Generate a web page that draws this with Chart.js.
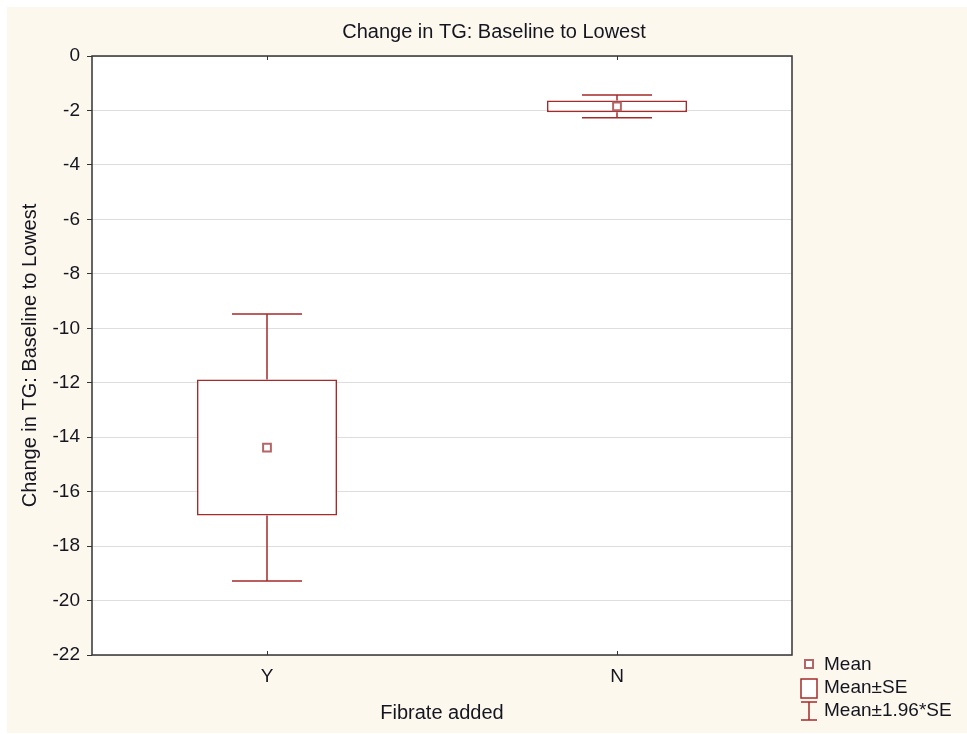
<!DOCTYPE html>
<html>
<head>
<meta charset="utf-8">
<title>Change in TG: Baseline to Lowest</title>
<script src="https://cdn.jsdelivr.net/npm/chart.js@4.4.1/dist/chart.umd.min.js"></script>
<style>
  html, body { margin: 0; padding: 0; background: #fff; }
  #wrap { width: 967px; height: 734px; }
</style>
</head>
<body>
<div id="wrap"><canvas id="boxChart" width="967" height="734"></canvas></div>
<script>
// group means and standard errors
const groups = ["Y", "N"];
const means = [-14.38, -1.85];
const stdErr = [2.5, 0.215];
const ciFactor = 1.96;

// y axis range
const yMin = -22;
const yMax = 0;
const yStep = 2;

const TITLE = "Change in TG: Baseline to Lowest";
const RED = "#a52a2a";
const MEAN_RED = "#b56565";
const FONT = "'Liberation Sans', Arial, sans-serif";
const TEXT = "#151520";

const seBoxes = means.map((m, i) => [m - stdErr[i], m + stdErr[i]]);

// cream page, white plot background, title centred on the page
const backdrop = {
  id: "backdrop",
  beforeDraw(chart) {
    const { ctx, chartArea: a } = chart;
    ctx.save();
    ctx.fillStyle = "#fdf8ee";
    ctx.fillRect(7, 7, chart.width - 7, chart.height - 8);
    ctx.fillStyle = "#fff";
    ctx.fillRect(a.left, a.top, a.right - a.left, a.bottom - a.top);
    ctx.fillStyle = TEXT;
    ctx.font = "20px " + FONT;
    ctx.textAlign = "center";
    ctx.textBaseline = "middle";
    ctx.fillText(TITLE, 494, 32);
    ctx.restore();
  }
};

// plot frame with small category ticks
const frame = {
  id: "frame",
  beforeDatasetsDraw(chart) {
    const { ctx, chartArea: a, scales } = chart;
    ctx.save();
    ctx.strokeStyle = "#333";
    ctx.lineWidth = 1.5;
    ctx.strokeRect(a.left, a.top, a.right - a.left, a.bottom - a.top);
    ctx.lineWidth = 1;
    groups.forEach((g, i) => {
      const x = Math.round(scales.x.getPixelForValue(i)) + 0.5;
      ctx.beginPath();
      ctx.moveTo(x, a.bottom); ctx.lineTo(x, a.bottom - 4);
      ctx.moveTo(x, a.top); ctx.lineTo(x, a.top + 4);
      ctx.stroke();
    });
    ctx.restore();
  }
};

// mean ± 1.96*SE whiskers
const whiskers = {
  id: "whiskers",
  beforeDatasetsDraw(chart) {
    const { ctx, scales } = chart;
    const bars = chart.getDatasetMeta(1).data;
    ctx.save();
    ctx.strokeStyle = RED;
    ctx.lineWidth = 1.5;
    means.forEach((m, i) => {
      const x = scales.x.getPixelForValue(i);
      const half = bars[i].width / 4;
      const hi = scales.y.getPixelForValue(m + ciFactor * stdErr[i]);
      const lo = scales.y.getPixelForValue(m - ciFactor * stdErr[i]);
      const boxHi = scales.y.getPixelForValue(seBoxes[i][1]);
      const boxLo = scales.y.getPixelForValue(seBoxes[i][0]);
      ctx.beginPath();
      ctx.moveTo(x, hi); ctx.lineTo(x, boxHi);
      ctx.moveTo(x, boxLo); ctx.lineTo(x, lo);
      ctx.moveTo(x - half, hi); ctx.lineTo(x + half, hi);
      ctx.moveTo(x - half, lo); ctx.lineTo(x + half, lo);
      ctx.stroke();
    });
    ctx.restore();
  }
};

// legend in the lower right corner
const sideLegend = {
  id: "sideLegend",
  afterDraw(chart) {
    const { ctx, chartArea: a } = chart;
    const x0 = a.right + 9;
    const y0 = a.bottom + 9;
    ctx.save();
    // mean marker
    ctx.strokeStyle = MEAN_RED;
    ctx.lineWidth = 2;
    ctx.fillStyle = "#fff";
    ctx.fillRect(x0 + 4, y0 - 4, 8, 8);
    ctx.strokeRect(x0 + 4, y0 - 4, 8, 8);
    // SE box
    ctx.strokeStyle = RED;
    ctx.lineWidth = 1.5;
    ctx.fillRect(x0, y0 + 15, 16, 19);
    ctx.strokeRect(x0, y0 + 15, 16, 19);
    // whisker glyph
    ctx.beginPath();
    ctx.moveTo(x0, y0 + 38); ctx.lineTo(x0 + 16, y0 + 38);
    ctx.moveTo(x0 + 8, y0 + 38); ctx.lineTo(x0 + 8, y0 + 56);
    ctx.moveTo(x0, y0 + 56); ctx.lineTo(x0 + 16, y0 + 56);
    ctx.stroke();
    ctx.fillStyle = TEXT;
    ctx.font = "19px " + FONT;
    ctx.textBaseline = "middle";
    ctx.fillText("Mean", x0 + 23, y0 + 1);
    ctx.fillText("Mean\u00b1SE", x0 + 23, y0 + 24);
    ctx.fillText("Mean\u00b1" + ciFactor + "*SE", x0 + 23, y0 + 47);
    ctx.restore();
  }
};

new Chart(document.getElementById("boxChart"), {
  data: {
    labels: groups,
    datasets: [
      {
        type: "line",
        label: "Mean",
        data: means,
        showLine: false,
        pointStyle: "rect",
        pointRadius: 5.5,
        pointBorderWidth: 2,
        pointBorderColor: MEAN_RED,
        pointBackgroundColor: "#fff",
        order: 1
      },
      {
        type: "bar",
        label: "Mean\u00b1SE",
        data: seBoxes,
        backgroundColor: "#fff",
        borderColor: RED,
        borderWidth: 1.6,
        borderSkipped: false,
        barPercentage: 0.4,
        categoryPercentage: 1,
        order: 2
      }
    ]
  },
  options: {
    responsive: false,
    animation: false,
    events: [],
    layout: { padding: { left: 7, top: 56, right: 175, bottom: 0 } },
    plugins: {
      legend: { display: false },
      tooltip: { enabled: false },
      title: { display: false }
    },
    scales: {
      x: {
        grid: { display: false, drawTicks: false },
        border: { display: false },
        ticks: { color: TEXT, font: { family: FONT, size: 19 }, padding: 10 },
        title: {
          display: true,
          text: "Fibrate added",
          color: TEXT,
          font: { family: FONT, size: 20 },
          padding: { top: 4, bottom: 9 }
        },
        afterFit(s) { s.height = 79; }
      },
      y: {
        min: yMin,
        max: yMax,
        ticks: { stepSize: yStep, color: TEXT, font: { family: FONT, size: 19 }, padding: 7 },
        grid: { color: "#dedede", tickColor: "#333", tickLength: 5 },
        border: { display: false },
        title: {
          display: true,
          text: TITLE,
          color: TEXT,
          font: { family: FONT, size: 20 },
          padding: { top: 11, bottom: 0 }
        },
        afterFit(s) { s.width = 85; }
      }
    }
  },
  plugins: [backdrop, frame, whiskers, sideLegend]
});
</script>
</body>
</html>
